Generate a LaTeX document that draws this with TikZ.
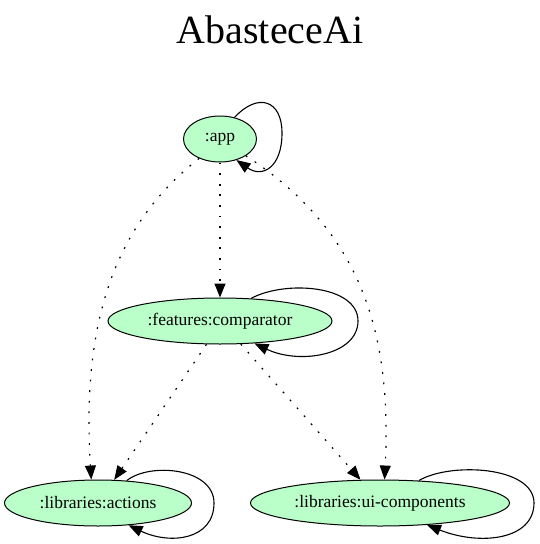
\documentclass[tikz,border=0pt]{standalone}
\usepackage{fontspec}
\setmainfont{Liberation Serif}
\usetikzlibrary{shapes.geometric,arrows.meta}
\definecolor{modgreen}{HTML}{BAFFC9}

\begin{document}
\begin{tikzpicture}
  [x=1pt,y=-1pt,every node/.style={ellipse,draw,line width=1pt,fill=modgreen,inner sep=0pt,minimum height=46pt,font=\fontsize{17.5}{21}\selectfont},
   dep/.style={-{Triangle[length=14pt,width=11pt]},line width=1.2pt,dash pattern=on 1.8pt off 8.8pt},
   selfdep/.style={-{Triangle[length=14pt,width=11pt]},line width=1.1pt}]
  \useasboundingbox (0,0) rectangle (539,544);
  \node[rectangle,draw=none,fill=none,anchor=base,font=\fontsize{40}{48}\selectfont] (title) at (270,43) {AbasteceAi};
  \node[minimum width=73pt] (app) at (220,139) {:app};
  \node[minimum width=224pt] (comp) at (220,321) {:features:comparator};
  \node[minimum width=187pt] (actions) at (98,503) {:libraries:actions};
  \node[minimum width=259pt] (ui) at (380,503) {:libraries:ui-components};

  \foreach \from/\to in {app.south/comp.north,comp.240/actions.55,comp.-48/ui.130}
    \draw[dep] (\from) -- (\to);
  \draw[dep] (app.223) .. controls (110,228) and (82,330) .. (actions.106);
  \draw[dep] (app.-33) .. controls (360,230) and (392,330) .. (ui.79);

  % self dependencies
  \draw[selfdep] (app.56) .. controls (258,92) and (282,100) .. (282,133) .. controls (282,168) and (262,178) .. (app.-52);
  \draw[selfdep] (comp.36) .. controls (285,280) and (358,285) .. (358,321) .. controls (358,355) and (300,365) .. (comp.-33);
  \draw[selfdep] (actions.38) .. controls (150,462) and (214,468) .. (214,503) .. controls (214,540) and (170,545) .. (actions.-36);
  \draw[selfdep] (ui.30) .. controls (450,462) and (534,466) .. (534,503) .. controls (534,540) and (480,546) .. (ui.-25);

\end{tikzpicture}
\end{document}
